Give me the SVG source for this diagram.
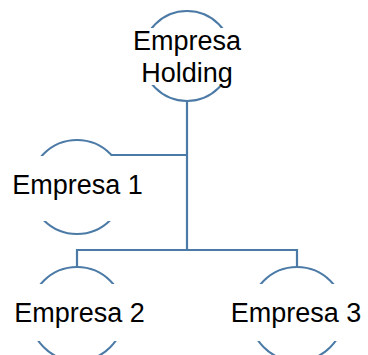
<svg xmlns="http://www.w3.org/2000/svg" width="368" height="355" viewBox="0 0 368 355">
<style>
.c{fill:none;stroke:#4b7aa6;stroke-width:2}
.l{fill:none;stroke:#4b7aa6;stroke-width:2.2}
.m{fill:#fff;stroke:none}
.t{font-family:"Liberation Sans",Arial,sans-serif;font-size:27px;fill:#000;text-anchor:middle}
</style>
<rect width="368" height="355" fill="#fff"/>
<g id="connectors">
<path class="l" d="M187,101 V250 M112,155 H187 M77,250 H297 M77,249 V267 M297,249 V267"/>
</g>
<g id="holding">
<circle class="c" cx="187" cy="56" r="45"/>
<rect class="m" x="128" y="28" width="118" height="57"/>
<text class="t" x="187" y="50">Empresa</text>
<text class="t" x="187" y="82">Holding</text>
</g>
<g id="empresa1">
<circle class="c" cx="77" cy="187" r="47"/>
<rect class="m" x="8" y="156" width="140" height="65"/>
<text class="t" x="77.5" y="194">Empresa 1</text>
</g>
<g id="empresa2">
<circle class="c" cx="77" cy="314" r="47"/>
<rect class="m" x="8" y="284" width="142" height="57"/>
<text class="t" x="79.5" y="322">Empresa 2</text>
</g>
<g id="empresa3">
<circle class="c" cx="297" cy="314" r="47"/>
<rect class="m" x="226" y="284" width="140" height="57"/>
<text class="t" x="296" y="322">Empresa 3</text>
</g>
</svg>
